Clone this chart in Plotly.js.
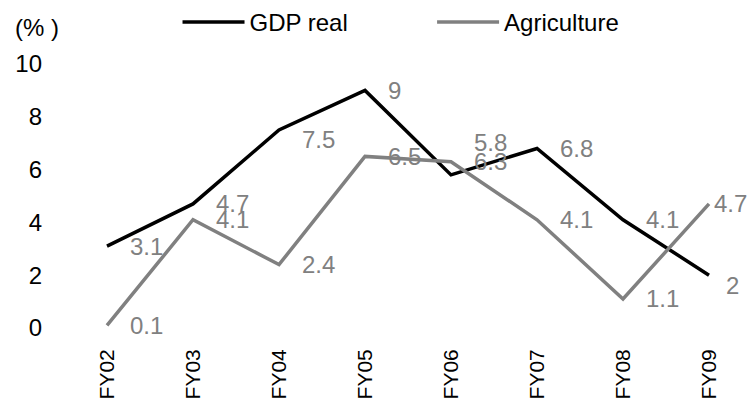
<!DOCTYPE html>
<html>
<head>
<meta charset="utf-8">
<script src="https://cdn.plot.ly/plotly-3.0.1.min.js"></script>
<style>
  html, body { margin: 0; padding: 0; background: #fff; }
  #chart { width: 752px; height: 400px; }
</style>
</head>
<body>
<div id="chart"></div>
<script>
// Fiscal years on the category axis
const years = ["FY02", "FY03", "FY04", "FY05", "FY06", "FY07", "FY08", "FY09"];

// Growth rates (%)
const gdpReal = [3.1, 4.7, 7.5, 9, 5.8, 6.8, 4.1, 2];
const agriculture = [0.1, 4.1, 2.4, 6.5, 6.3, 4.1, 1.1, 4.7];

// Y axis ticks
const yTicks = [0, 2, 4, 6, 8, 10];

const FONT = "Liberation Sans, Arial, sans-serif";
const LABEL_GREY = "#808080";

// Label offsets (px) from each point; a few are moved to keep them readable
const gdpLabelShift = { y: { 2: -9, 4: 32, 7: -10 }, x: { 7: 15 } };
const agriLabelShift = { y: {}, x: { 7: 3 } };

function valueLabels(values, shift) {
  return values.map((v, i) => ({
    x: years[i],
    y: v,
    xref: "x",
    yref: "y",
    text: String(v),
    showarrow: false,
    xanchor: "left",
    yanchor: "middle",
    xshift: shift.x[i] !== undefined ? shift.x[i] : 21,
    yshift: shift.y[i] || 0,
    font: { family: FONT, size: 24, color: LABEL_GREY }
  }));
}

const traces = [
  {
    x: years,
    y: gdpReal,
    name: "GDP real",
    type: "scatter",
    mode: "lines",
    line: { color: "#000000", width: 3.5 },
    legend: "legend",
    hoverinfo: "skip"
  },
  {
    x: years,
    y: agriculture,
    name: "Agriculture",
    type: "scatter",
    mode: "lines",
    line: { color: "#808080", width: 3.5 },
    legend: "legend2",
    hoverinfo: "skip"
  }
];

const legendBase = {
  orientation: "h",
  xanchor: "left",
  yanchor: "middle",
  y: 1.159,
  itemwidth: 62,
  bgcolor: "rgba(0,0,0,0)",
  borderwidth: 0,
  font: { family: FONT, size: 24, color: "#000000" }
};

const layout = {
  width: 752,
  height: 400,
  margin: { l: 64, r: 0, t: 64, b: 72, pad: 0 },
  paper_bgcolor: "#ffffff",
  plot_bgcolor: "#ffffff",
  font: { family: FONT, size: 24, color: "#000000" },
  showlegend: true,
  legend: Object.assign({}, legendBase, { x: 0.165 }),
  legend2: Object.assign({}, legendBase, { x: 0.535 }),
  xaxis: {
    type: "category",
    range: [-0.5, 7.5],
    showgrid: false,
    zeroline: false,
    showline: false,
    ticks: "",
    tickangle: -90,
    ticklabelstandoff: 16,
    tickfont: { family: FONT, size: 21, color: "#000000" },
    fixedrange: true
  },
  yaxis: {
    range: [0, 10],
    tickvals: yTicks,
    ticktext: yTicks.map(String),
    showgrid: false,
    zeroline: false,
    showline: false,
    ticks: "",
    ticklabelstandoff: 21,
    tickfont: { family: FONT, size: 24, color: "#000000" },
    fixedrange: true
  },
  annotations: [
    {
      text: "(% )",
      xref: "paper",
      yref: "paper",
      x: -0.074,
      y: 1.138,
      xanchor: "left",
      yanchor: "middle",
      showarrow: false,
      font: { family: FONT, size: 24, color: "#000000" }
    }
  ]
    .concat(valueLabels(gdpReal, gdpLabelShift))
    .concat(valueLabels(agriculture, agriLabelShift))
};

Plotly.newPlot("chart", traces, layout, { staticPlot: true, displayModeBar: false });
</script>
</body>
</html>
